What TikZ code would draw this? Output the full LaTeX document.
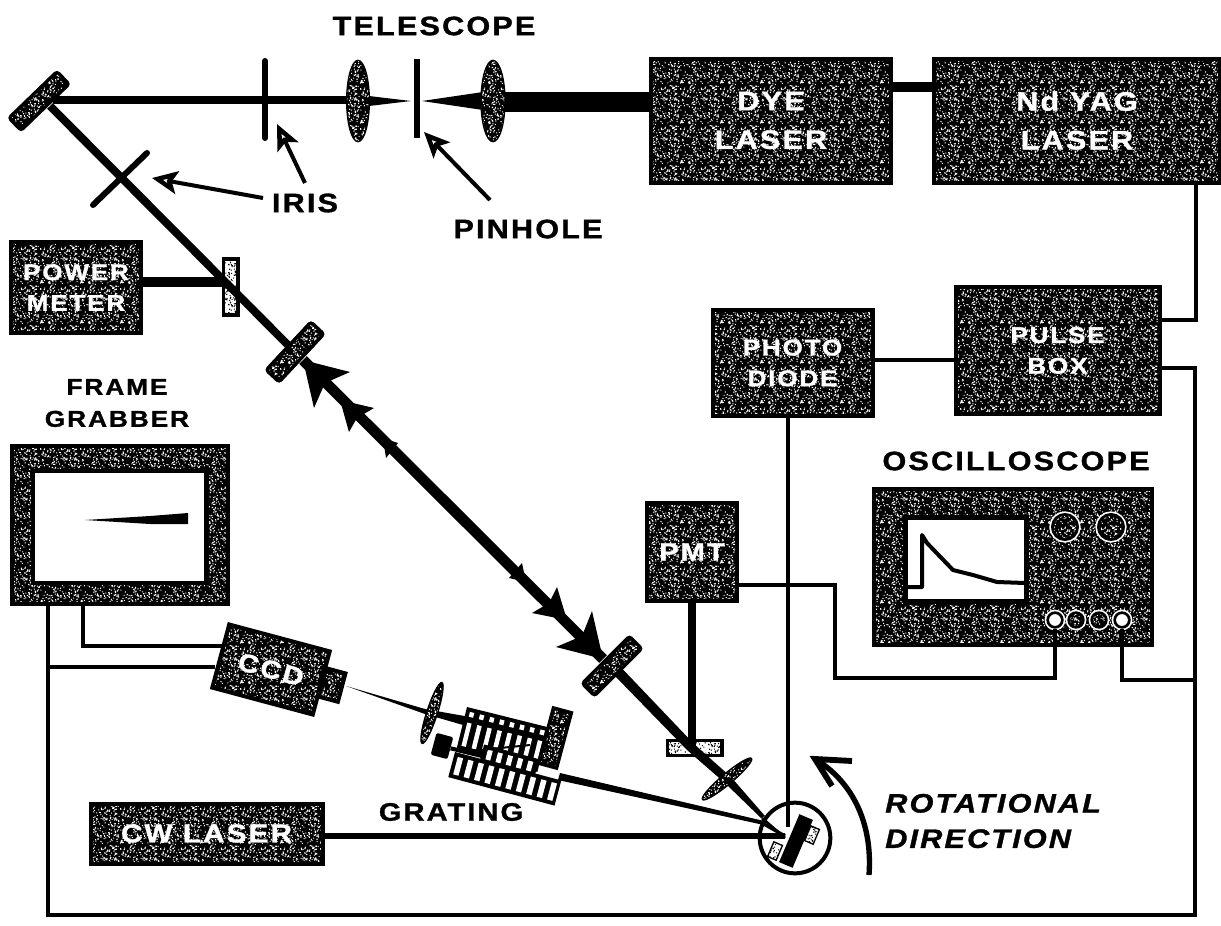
\documentclass[tikz,border=0pt]{standalone}
\usepackage{fontspec}
\usetikzlibrary{shapes.geometric,patterns,arrows.meta,calc}
\newfontfamily\lblA[LetterSpace=8,FakeStretch=1.15,BoldFeatures={FakeBold=1.2},BoldItalicFeatures={FakeBold=1.2}]{Liberation Sans}
\pgfmathsetseed{4711}
\pgfdeclarepatternformonly{speck}{\pgfqpoint{-1pt}{-1pt}}{\pgfqpoint{31pt}{31pt}}{\pgfqpoint{30pt}{30pt}}{%
  \foreach \i in {1,...,240}{%
    \pgfmathsetmacro\rx{rnd*29.2}%
    \pgfmathsetmacro\ry{rnd*29.2}%
    \pgfpathrectangle{\pgfqpoint{\rx pt}{\ry pt}}{\pgfqpoint{.8pt}{.8pt}}%
  }%
  \pgfusepath{fill}%
}
\newcommand\fs[1]{\lblA\bfseries\fontsize{#1}{#1}\selectfont}
\tikzset{
  dark/.style={preaction={fill=black},pattern=speck,pattern color=white},
  light/.style={preaction={fill=white},pattern=speck,pattern color=black},
  box/.style={rectangle,draw=black,line width=3pt,dark,inner sep=0pt,align=center,text=white,
    font=\lblA\bfseries\fontsize{17}{23}\selectfont},
  bigbox/.style={box,font=\lblA\bfseries\fontsize{20}{29}\selectfont},
  optic/.style={rectangle,rounded corners=2pt,draw=black,line width=2.5pt,dark,inner sep=0pt},
  lens/.style={ellipse,dark,inner sep=0pt,draw=black,line width=1pt},
  stop/.style={draw=black,line width=4.5pt,line cap=round},
  beam/.style={draw=black,line width=6pt},
  wire/.style={draw=black,line width=2.6pt},
  title/.style={text=black,font=\lblA\bfseries\fontsize{20}{24}\selectfont,align=center,inner sep=0pt},
  knob/.style={circle,draw=black,line width=2pt,inner sep=0pt,preaction={draw=white,line width=4.5pt}},
  pointer/.style={draw=black,line width=3pt,-{Stealth[length=19pt,width=17pt,inset=4pt,open,fill=white,line width=3.4pt]}},
}
\begin{document}
\begin{tikzpicture}[x=.75pt,y=-.75pt]
\useasboundingbox (0,0) rectangle (1221,925);
% boxes
\node[bigbox,minimum width=180pt,minimum height=93pt] (dye) at (771,120.5) {DYE\\LASER};
\node[bigbox,minimum width=214pt,minimum height=93pt] (yag) at (1077,120.5) {Nd YAG\\LASER};
\node[box,minimum width=153pt,minimum height=95pt] (pulse) at (1057.5,350.5) {PULSE\\BOX};
\node[box,minimum width=120pt,minimum height=79pt] (photo) at (792.5,363) {PHOTO\\DIODE};
\node[box,minimum width=97pt,minimum height=68pt] (power) at (76,287.5) {POWER\\METER};
\node[box,minimum width=67pt,minimum height=73pt,font=\fs{19}] (pmt) at (692,552) {PMT};
\node[box,minimum width=208pt,minimum height=117pt] (osc) at (1013,566.5) {};
\node[box,minimum width=162pt,minimum height=119pt] (frame) at (119.5,525) {};
\node[box,minimum width=174pt,minimum height=45pt,font=\fs{19.4}] (cw) at (206.5,833.5) {CW LASER};
\node[box,minimum width=78pt,minimum height=49pt,rotate=-15,font=\fs{19}] (ccd) at (271,669.5) {CCD};
\node[box,minimum width=15pt,minimum height=22pt,rotate=-15] (nose) at (332,685) {};
% screens
\node[rectangle,draw=black,line width=3.5pt,fill=white,minimum width=130pt,minimum height=84pt] (fscreen) at (119.5,527) {};
\fill[black] (85,520) -- (150,516) -- (188,513) -- (188,524) -- (150,524) -- cycle;
\node[rectangle,draw=black,line width=3.5pt,fill=white,minimum width=91pt,minimum height=63pt] (oscreen) at (966,559.5) {};
\draw[black,line width=3pt,line join=round] (907,587) -- (922,587) -- (922,535) -- (927,543) -- (953,570) -- (973,575) -- (997,582) -- (1025,583);
\foreach \n/\x in {k1/1065,k2/1111}{\node[knob,minimum size=19pt,dark] (\n) at (\x,527) {};}
\foreach \n/\x in {p2/1076,p3/1099}{\node[knob,minimum size=11pt,dark] (\n) at (\x,620) {};}
\foreach \n/\x in {p1/1055,p4/1122}{\node[knob,minimum size=11pt,fill=white] (\n) at (\x,620) {};}
% connector ports
\coordinate (yagport) at (1196,183);
\coordinate (pulseA) at (1160,320);
\coordinate (pulseB) at (1160,368);
\coordinate (pulseC) at (955,360);
\coordinate (photoE) at (873,360);
\coordinate (photoS) at (788,416);
\coordinate (rail) at (1195,680);
\coordinate (railB) at (1195,915);
\coordinate (frameA) at (83,605);
\coordinate (frameB) at (48,605);
\coordinate (ccdA) at (222,646);
\coordinate (ccdB) at (215,667);
\coordinate (pmtE) at (737,585);
\coordinate (pivot) at (788,827);
% wires
\draw[wire] (yagport) |- (pulseA);
\draw[wire] (photoE) -- (pulseC);
\draw[wire] (pulseB) -| (railB) -| (frameB);
\draw[wire] (p4.south) |- (rail);
\draw[wire] (p1.south) |- (835,678) |- (pmtE);
\draw[wire] (frameA) |- (ccdA);
\draw[wire] (48,667) -- (ccdB);
\draw[draw=black,line width=3.4pt] (photoS) -- (pivot);
\draw[draw=black,line width=8pt] (dye.east |- 0,87) -- (yag.west |- 0,87);
% upper beam
\fill[black] (493,92) rectangle (dye.west |- 0,112);
\fill[black] (422,101) -- (483,92) -- (483,110) -- cycle;
\fill[black] (369,96) -- (411,101) -- (369,106) -- cycle;
\node[lens,minimum width=17pt,minimum height=61pt] (lens1) at (358,101) {};
\node[lens,minimum width=18pt,minimum height=61pt] (lens2) at (493,101) {};
\node[optic,minimum width=50pt,minimum height=13pt,rotate=44] (m1) at (39,101) {};
\node[optic,minimum width=49pt,minimum height=13pt,rotate=47] (m2) at (295,352) {};
\node[optic,minimum width=50pt,minimum height=13pt,rotate=45] (m3) at (612,666) {};
\draw[beam] (53,100) -- (lens1.west |- 0,100);
\draw[stop] (265,61) -- (265,138);
\draw[stop,line cap=butt] (417,59) -- (417,138);
\draw[stop] (147,153) -- (93,205);
% beam splitter
\node[rectangle,draw=black,line width=2.5pt,light,minimum width=11pt,minimum height=42pt] (split) at (230.5,287) {};
\draw[draw=black,line width=7pt] (power.east |- 0,282) -- (226,282);
\draw[beam] (50,106) -- (m2);
\node[optic,minimum width=49pt,minimum height=13pt,rotate=47] at (m2) {};
% double arrow
\draw[draw=black,line width=8pt] (303,360) -- (603,659);
\fill[black] (303,360) -- (350,372) -- (325,383) -- (314,408) -- cycle;
\fill[black] (340,400) -- (374,408) -- (357,418) -- (349,432) -- cycle;
\fill[black] (383,438) -- (398,443) -- (386,458) -- cycle;
\fill[black] (603,659) -- (592,611) -- (582,636) -- (556,647) -- cycle;
\fill[black] (567,620) -- (557,587) -- (549,603) -- (532,613) -- cycle;
\fill[black] (522,563) -- (509,578) -- (526,582) -- cycle;
% lower beam
\node[rectangle,draw=black,line width=2.5pt,light,minimum width=41pt,minimum height=11pt] (slab) at (694.5,748) {};
\draw[draw=black,line width=6.5pt] (pmt.south) -- (692,746);
\fill[black] (615.5,676.5) -- (623,669.5) -- (694,744) -- (731,777) -- (765,816) -- (761,818) -- (725,783) -- (687,750) -- cycle;
\node[lens,minimum width=48pt,minimum height=8pt,rotate=40] (lens3) at (727,779) {};
% grating side
\fill[black] (346,686) -- (425,709) -- (470,717) -- (470,727) -- (425,714) -- cycle;
\node[lens,minimum width=48pt,minimum height=8pt,rotate=72] (lens4) at (432,713) {};
\node[rectangle,fill=black,rounded corners=1.5pt,minimum width=13pt,minimum height=17pt,rotate=-15] (stub) at (442,746) {};
\draw[draw=black,line width=3pt] (stub.east) -- (475,754);
\fill[black] (560,773) -- (764,821) -- (764,825) -- (558,780) -- cycle;
\draw[draw=black,line width=4.2pt] (cw.east |- 0,836) -- (768,836);
% grating body
\begin{scope}[shift={(467,707)},rotate=-14]
  \fill[black] (0,0) rectangle (84,46);
  \foreach \i in {0,...,7}{\fill[white] ({4+\i*10.4},4) rectangle ++(4.5,5);}
  \foreach \i in {0,...,7}{\fill[white] ({4+\i*10.4},15) rectangle ++(4.5,24);}
\end{scope}
\begin{scope}[shift={(455,752)},rotate=-15]
  \fill[black] (0,0) rectangle (110,26);
  \foreach \i in {0,...,9}{\fill[white] ({4+\i*10.8},4) rectangle ++(5.5,18);}
\end{scope}
\begin{scope}[shift={(460,738)},rotate=-15]
  \fill[black] (25,0) rectangle (82,18);
  \foreach \i in {0,...,4}{\fill[white] ({30+\i*10.5},4) rectangle ++(5,10);}
\end{scope}
\node[rectangle,draw=black,line width=2.5pt,dark,minimum width=14pt,minimum height=43pt,rotate=-15] (gpiece) at (555,738) {};
\draw[draw=black,line width=1.5pt] (460,752) -- (530,745);
% rotation stage
\node[circle,draw=black,line width=3pt,fill=white,minimum size=53pt,inner sep=0pt] (stage) at (795,838) {};
\draw[draw=black,line width=4.2pt] (stage.west |- 0,836) -- (785,836);
\draw[draw=black,line width=3.4pt] (788,802) -- (788,827);
\draw[draw=black,line width=2pt] (762,818) -- (785,838);
\draw[draw=black,line width=2.5pt] (762,823) -- (785,836);
\node[rectangle,light,draw=black,line width=1pt,minimum width=12pt,minimum height=7pt,rotate=67] (hA) at (812,835) {};
\node[rectangle,light,draw=black,line width=1pt,minimum width=12pt,minimum height=7pt,rotate=67] (hB) at (775,851) {};
\node[rectangle,fill=black,minimum width=39pt,minimum height=11pt,inner sep=0pt,rotate=67] (rmirror) at (796,841) {};
% rotation arrow
\coordinate (rotS) at (869,875);
\coordinate (rotE) at (815,759);
\draw[draw=black,line width=4pt] (rotS) .. controls (873,820) and (850,780) .. (rotE);
\draw[draw=black,line width=4.4pt,line join=miter] (832,786) -- (rotE) -- (852,761);
% pointers
\coordinate (irisA) at (305,183);
\coordinate (irisB) at (263,198);
\coordinate (pinT) at (490,200);
\draw[pointer] (irisA) -- (277,124);
\draw[pointer] (irisB) -- (152,178);
\draw[pointer] (pinT) -- (424,132);
% labels
\node[title] (tel) at (434,26) {TELESCOPE};
\node[title] (iris) at (305,203) {IRIS};
\node[title] (pin) at (528,229) {PINHOLE};
\node[title,font=\lblA\bfseries\fontsize{17.2}{24}\selectfont] (fg) at (117,403) {FRAME\\GRABBER};
\node[title] (osct) at (1016,461) {OSCILLOSCOPE};
\node[title,font=\fs{19}] (gr) at (451,812) {GRATING};
\node[title,align=left,anchor=west,font=\lblA\bfseries\itshape\fontsize{20}{26.5}\selectfont] (rot) at (885,821) {ROTATIONAL\\DIRECTION};
\end{tikzpicture}
\end{document}
